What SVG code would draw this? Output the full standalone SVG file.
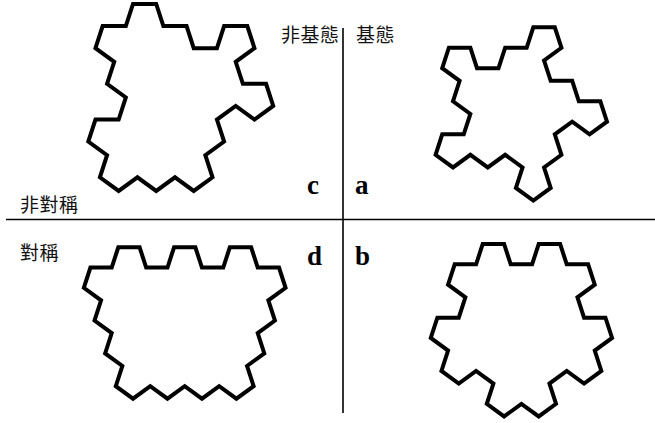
<svg xmlns="http://www.w3.org/2000/svg" width="655" height="423" viewBox="0 0 655 423">
  <style>
    .ring { fill: none; stroke: #000; stroke-width: 4; stroke-linejoin: miter; stroke-miterlimit: 10; }
    .axis { stroke: #000; stroke-width: 1.6; }
    .cjk { font-family: "Noto Sans CJK TC", "Noto Sans CJK SC", sans-serif; font-size: 19px; letter-spacing: 0.5px; fill: #111; }
    .tag { font-family: "Liberation Serif", serif; font-weight: bold; font-size: 27px; fill: #000; }
  </style>
  <rect width="655" height="423" fill="#fff"/>

  <!-- quadrant axes -->
  <g id="axes">
    <line class="axis" x1="6" y1="219.5" x2="655" y2="219.5"/>
    <line class="axis" x1="343" y1="28" x2="343" y2="413"/>
  </g>

  <!-- quadrant labels -->
  <g id="labels">
    <text class="cjk" x="281" y="42">非基態</text>
    <text class="cjk" x="356" y="42">基態</text>
    <text class="cjk" x="20" y="212">非對稱</text>
    <text class="cjk" x="20" y="260">對稱</text>
    <text class="tag" x="307" y="194">c</text>
    <text class="tag" x="355" y="194">a</text>
    <text class="tag" x="307" y="265">d</text>
    <text class="tag" x="355" y="265">b</text>
  </g>

  <!-- a: ground state, asymmetric -->
  <g id="shape-a">
    <path class="ring" d="M533.3,27.3 L554.8,27.3 L561.44,47.75 L544.05,60.39 L550.69,80.84 L572.19,80.84 L578.84,101.28 L600.34,101.28 L606.98,121.73 L589.59,134.37 L572.19,121.73 L554.8,134.37 L561.44,154.82 L544.05,167.46 L550.69,187.91 L533.3,200.55 L515.91,187.91 L522.55,167.46 L505.16,154.82 L487.76,167.46 L470.37,154.82 L452.98,167.46 L435.58,154.82 L442.23,134.37 L463.73,134.37 L470.37,113.92 L452.98,101.28 L459.62,80.84 L442.23,68.19 L448.87,47.75 L470.37,47.75 L477.01,68.19 L498.51,68.19 L505.16,47.75 L526.66,47.75 Z"/>
  </g>

  <!-- b: ground state, symmetric -->
  <g id="shape-b">
    <path class="ring" d="M482.7,244 L504.1,244 L510.71,264.35 L532.11,264.35 L538.73,244 L560.13,244 L566.74,264.35 L588.14,264.35 L594.75,284.7 L577.44,297.29 L584.05,317.64 L605.45,317.64 L612.06,337.99 L594.75,350.57 L601.36,370.92 L584.05,383.51 L566.74,370.92 L549.43,383.51 L556.04,403.86 L538.73,416.44 L521.41,403.86 L504.1,416.44 L486.79,403.86 L493.4,383.51 L476.09,370.92 L458.77,383.51 L441.46,370.92 L448.07,350.57 L430.76,337.99 L437.37,317.64 L458.77,317.64 L465.39,297.29 L448.07,284.7 L454.69,264.35 L476.09,264.35 Z"/>
  </g>

  <!-- c: non-ground state, asymmetric -->
  <g id="shape-c">
    <path class="ring" d="M133,4 L156.2,4 L163.37,26.06 L186.57,26.06 L193.74,48.13 L216.94,48.13 L224.11,26.06 L247.31,26.06 L254.48,48.13 L235.71,61.77 L242.88,83.83 L266.08,83.83 L273.24,105.89 L254.48,119.54 L235.71,105.89 L216.94,119.54 L224.11,141.6 L205.34,155.24 L212.51,177.3 L193.74,190.95 L174.97,177.3 L156.2,190.95 L137.43,177.3 L118.66,190.95 L99.89,177.3 L107.06,155.24 L88.29,141.6 L95.46,119.54 L118.66,119.54 L125.83,97.47 L107.06,83.83 L114.23,61.77 L95.46,48.13 L102.63,26.06 L125.83,26.06 Z"/>
  </g>

  <!-- d: non-ground state, symmetric -->
  <g id="shape-d">
    <path class="ring" d="M118.3,247.3 L139.6,247.3 L146.18,267.56 L167.48,267.56 L174.06,247.3 L195.36,247.3 L201.95,267.56 L223.25,267.56 L229.83,247.3 L251.13,247.3 L257.71,267.56 L279.01,267.56 L285.59,287.81 L268.36,300.34 L274.94,320.59 L257.71,333.12 L264.29,353.37 L247.06,365.9 L253.64,386.15 L236.41,398.68 L219.18,386.15 L201.95,398.68 L184.71,386.15 L167.48,398.68 L150.25,386.15 L133.02,398.68 L115.79,386.15 L122.37,365.9 L105.14,353.37 L111.72,333.12 L94.49,320.59 L101.07,300.34 L83.84,287.81 L90.42,267.56 L111.72,267.56 Z"/>
  </g>
</svg>
